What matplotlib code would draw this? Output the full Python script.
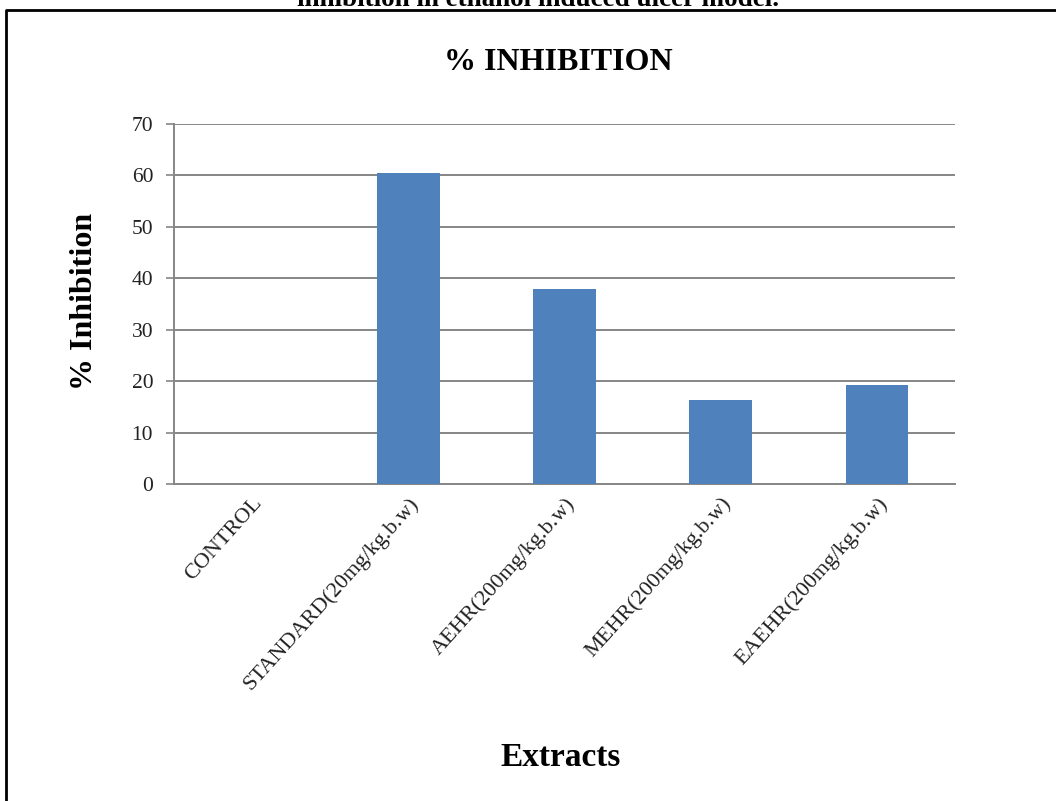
import numpy as np
import matplotlib
matplotlib.use('Agg')
import matplotlib.pyplot as plt
from matplotlib.lines import Line2D

plt.rcParams['font.family'] = ['Liberation Serif', 'DejaVu Serif']

# % inhibition per treatment group
groups = ['CONTROL', 'STANDARD(20mg/kg.b.w)', 'AEHR(200mg/kg.b.w)',
          'MEHR(200mg/kg.b.w)', 'EAEHR(200mg/kg.b.w)']
inhibition = [0, 60.4, 37.9, 16.4, 19.2]
yticks = [0, 10, 20, 30, 40, 50, 60, 70]

W, H = 1056, 801
fig = plt.figure(figsize=(W / 100, H / 100), dpi=100)
ax = fig.add_axes([174 / W, 1 - 484 / H, (955 - 174) / W, (484 - 124) / H])

grid_col = '#868686'
x = np.arange(len(groups))
ax.bar(x, inhibition, width=0.4, color='#4F81BD', zorder=3)

ax.set_xlim(-0.5, len(groups) - 0.5)
ax.set_ylim(0, 70)
ax.set_yticks(yticks)
ax.yaxis.grid(True, color=grid_col, linewidth=1.4, zorder=0)
ax.tick_params(axis='y', direction='out', length=6, width=1.2, color=grid_col,
               labelsize=15.5, pad=9, labelcolor='#222222')
ax.tick_params(axis='x', length=0, pad=7)
ax.set_xticks(x)
ax.set_xticklabels(groups, rotation=48, ha='right', rotation_mode='anchor',
                   fontsize=16, color='#222222')

for side in ['top', 'right']:
    ax.spines[side].set_visible(False)
for side in ['left', 'bottom']:
    ax.spines[side].set_color(grid_col)
    ax.spines[side].set_linewidth(1.4)

# titles and labels
fig.text(558 / W, 1 - 62 / H, '% INHIBITION', ha='center', va='center',
         fontsize=23, fontweight='bold')
fig.text(85 / W, 1 - 301 / H, '% Inhibition', ha='center', va='center',
         rotation=90, fontsize=23, fontweight='bold')
fig.text(561 / W, 1 - 757 / H, 'Extracts', ha='center', va='center',
         fontsize=24, fontweight='bold')

# caption line cut at the top edge
fig.text(538 / W, 1 - 6 / H, 'inhibition in ethanol induced ulcer model.',
         ha='center', va='baseline', fontsize=19.5, fontweight='bold')

# frame (left and top edges only)
fig.add_artist(Line2D([6 / W, 6 / W, 1], [0, 1 - 10 / H, 1 - 10 / H],
                      transform=fig.transFigure, color='black', linewidth=2))

fig.savefig('out.png', dpi=100)
